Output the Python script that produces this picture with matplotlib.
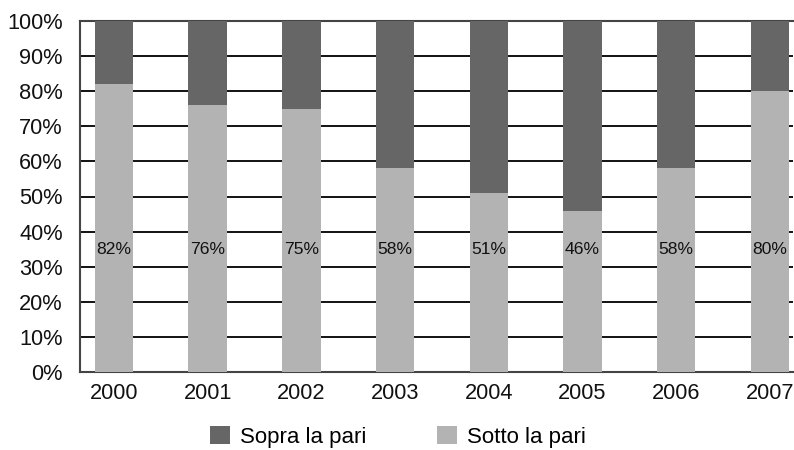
import matplotlib
matplotlib.use("Agg")
import matplotlib.pyplot as plt
from matplotlib.patches import Patch
import numpy as np

plt.rcParams['font.family'] = ['Liberation Sans', 'DejaVu Sans']

years = ["2000", "2001", "2002", "2003", "2004", "2005", "2006", "2007"]
sotto = [82, 76, 75, 58, 51, 46, 58, 80]          # Sotto la pari (%)
sopra = [100 - v for v in sotto]                  # Sopra la pari (%)
y_ticks = list(range(0, 101, 10))

dark = "#666666"
light = "#b3b3b3"

fig = plt.figure(figsize=(7.94, 4.5), dpi=100)
ax = fig.add_axes([79.5 / 794, 1 - 372 / 450, (793 - 79.5) / 794, (372 - 21) / 450])

x = np.arange(len(years))
width = 0.41
ax.bar(x, sotto, width, color=light, zorder=3)
ax.bar(x, sopra, width, bottom=sotto, color=dark, zorder=3)

for xi, v in zip(x, sotto):
    ax.text(xi, 35, f"{v}%", ha="center", va="center", fontsize=12.6,
            color="#111111", zorder=4)

ax.set_xlim(-0.368, 7.247)
ax.set_ylim(0, 100)
ax.set_yticks(y_ticks)
ax.set_yticklabels([f"{t}%" for t in y_ticks], fontsize=15.7)
ax.set_xticks(x)
ax.set_xticklabels(years, fontsize=15.7)
ax.tick_params(axis="both", length=0, colors="#111111")
ax.tick_params(axis="y", pad=12)
ax.tick_params(axis="x", pad=8)

for t in y_ticks[1:-1]:
    ax.axhline(t, color="#111111", lw=1.4, zorder=1)

for side in ["left", "bottom", "top"]:
    ax.spines[side].set_color("#444444")
    ax.spines[side].set_linewidth(1.5)
ax.spines["right"].set_visible(False)

handles = [Patch(facecolor=dark, edgecolor="none", label="Sopra la pari"),
           Patch(facecolor=light, edgecolor="none", label="Sotto la pari")]
fig.legend(handles=handles, loc="center", bbox_to_anchor=(398 / 794, 0.029),
           ncol=2, frameon=False, fontsize=16, handlelength=0.9,
           handleheight=0.9, handletextpad=0.45, columnspacing=3.2)

fig.savefig("out.png", dpi=100)
